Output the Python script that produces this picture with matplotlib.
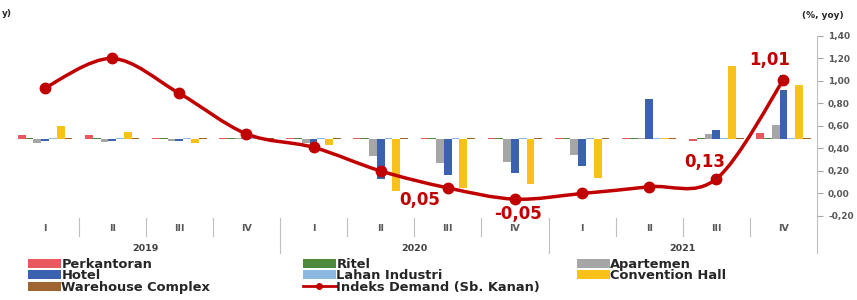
import numpy as np
import matplotlib
matplotlib.use('Agg')
import matplotlib.pyplot as plt
from matplotlib.path import Path
from matplotlib.patches import PathPatch, Patch
from matplotlib.lines import Line2D

# Kuartal dan tahun
quarters = ['I', 'II', 'III', 'IV'] * 3
years = ['2019', '2020', '2021']

# Pertumbuhan per segmen (sumbu kiri, skala tidak terlihat)
perkantoran = [0.04, 0.04, 0.01, 0.01, 0.01, 0.01, 0.01, 0.01, 0.01, 0.01, -0.01, 0.06]
ritel = [0.01, 0.01, 0.01, 0.01, 0.01, 0.01, 0.01, 0.01, 0.01, 0.01, 0.01, 0.01]
apartemen = [-0.03, -0.02, -0.01, 0.01, -0.03, -0.15, -0.21, -0.20, -0.14, 0.01, 0.05, 0.13]
hotel = [-0.01, -0.01, -0.01, 0.01, -0.04, -0.35, -0.32, -0.30, -0.24, 0.36, 0.08, 0.44]
lahan_industri = [0.01, 0.01, 0.01, 0.01, 0.01, 0.01, 0.01, 0.01, 0.01, 0.01, 0.01, 0.01]
convention_hall = [0.12, 0.07, -0.03, 0.01, -0.05, -0.46, -0.43, -0.40, -0.34, 0.01, 0.65, 0.48]
warehouse = [0.01, 0.01, 0.01, 0.01, 0.01, 0.01, 0.01, 0.01, 0.01, 0.01, 0.01, 0.01]

# Indeks Demand (sumbu kanan)
indeks_demand = [0.94, 1.20, 0.89, 0.53, 0.41, 0.20, 0.05, -0.05, 0.00, 0.06, 0.13, 1.01]

series = [
    ('Perkantoran', perkantoran, '#E8585F'),
    ('Ritel', ritel, '#4E8A3C'),
    ('Apartemen', apartemen, '#A6A6A6'),
    ('Hotel', hotel, '#3A62AE'),
    ('Lahan Industri', lahan_industri, '#8DB8E0'),
    ('Convention Hall', convention_hall, '#F9C21A'),
    ('Warehouse Complex', warehouse, '#A0642F'),
]
line_color = '#C00000'
text_gray = '#595959'
wide = ['DejaVu Sans']

plt.rcParams['font.family'] = ['Liberation Sans', 'DejaVu Sans']

fig = plt.figure(figsize=(8.57, 3.0), dpi=100)
ax = fig.add_axes([11.5 / 857, 1 - 216 / 300, (817 - 11.5) / 857, 180 / 300])
ax2 = ax.twinx()

x = np.arange(len(quarters))
w = 0.116
for k, (name, vals, col) in enumerate(series):
    ax.bar(x + (k - 3) * w, vals, width=w, color=col, linewidth=0)

ax.set_xlim(-0.5, len(quarters) - 0.5)
ax.set_ylim(-0.68, 0.92)
ax.axis('off')

# garis indeks, dihaluskan seperti grafik Excel (Bezier)
ys = np.array(indeks_demand)
pts = np.column_stack([x, ys])
verts = [pts[0]]
codes = [Path.MOVETO]
for i in range(len(pts) - 1):
    p0 = pts[max(i - 1, 0)]
    p1 = pts[i]
    p2 = pts[i + 1]
    p3 = pts[min(i + 2, len(pts) - 1)]
    verts += [p1 + (p2 - p0) / 6, p2 - (p3 - p1) / 6, p2]
    codes += [Path.CURVE4] * 3
ax2.add_patch(PathPatch(Path(verts, codes), fill=False, ec=line_color, lw=2.5,
                        capstyle='round', joinstyle='round'))
ax2.plot(x, ys, 'o', color=line_color, ms=7.5)

ticks = np.arange(-0.2, 1.41, 0.2)
ax2.set_ylim(-0.2, 1.4)
ax2.set_yticks(ticks)
ax2.set_yticklabels([f'{v:.2f}'.replace('.', ',') for v in ticks],
                    fontsize=6.5, fontweight='bold', color=text_gray, family=wide)
ax2.tick_params(axis='y', length=4, color='#A6A6A6', pad=4)
for s in ['top', 'left', 'bottom']:
    ax2.spines[s].set_visible(False)
ax2.spines['right'].set_color('#BFBFBF')
ax2.xaxis.set_visible(False)

# label nilai
lab = dict(color=line_color, fontsize=12, fontweight='bold', ha='center', va='center',
           family=wide)
arrow = dict(arrowstyle='-', color='#404040', lw=0.9, shrinkA=3, shrinkB=3)
ax2.annotate('1,01', (x[11], ys[11]), xytext=(-10, 14), textcoords='offset points',
             arrowprops=arrow, **lab)
ax2.annotate('0,13', (x[10], ys[10]), xytext=(-8, 12), textcoords='offset points',
             arrowprops=arrow, **lab)
ax2.annotate('0,05', (x[6], ys[6]), xytext=(-20, -9), textcoords='offset points', **lab)
ax2.annotate('-0,05', (x[7], ys[7]), xytext=(2, -11), textcoords='offset points', **lab)

# sumbu kategori (kuartal & tahun)
tr = ax.get_xaxis_transform()
for i, q in enumerate(quarters):
    ax.text(x[i], -0.072, q, transform=tr, ha='center', va='center',
            fontsize=6.8, fontweight='bold', color=text_gray, family=wide)
for i in range(len(quarters) - 1):
    long = (i + 1) % 4 == 0
    ax.plot([i + 0.5, i + 0.5], [-0.01, -0.206 if long else -0.111], transform=tr,
            color='#BFBFBF', lw=0.8, clip_on=False)
ax.plot([x[-1] + 0.5] * 2, [0, -0.206], transform=tr, color='#BFBFBF', lw=0.8, clip_on=False)
for j, yr in enumerate(years):
    ax.text(4 * j + 1.5, -0.178, yr, transform=tr, ha='center', va='center',
            fontsize=6.8, fontweight='bold', color='#404040', family=wide)

# teks satuan
fig.text(802 / 857, 1 - 16 / 300, '(%, yoy)', fontsize=6.5, fontweight='bold', va='center',
         family=wide, color='#262626')
fig.text(2 / 857, 1 - 14 / 300, 'y)', fontsize=6.5, fontweight='bold', va='center',
         family=wide, color='#262626')

# legenda, 3 kolom
handles = {name: Patch(facecolor=col, edgecolor='none') for name, _, col in series}
handles['Indeks Demand (Sb. Kanan)'] = Line2D([], [], color=line_color, lw=2, marker='o', ms=4)
columns = [
    (28, ['Perkantoran', 'Hotel', 'Warehouse Complex']),
    (303, ['Ritel', 'Lahan Industri', 'Indeks Demand (Sb. Kanan)']),
    (577, ['Apartemen', 'Convention Hall']),
]
for xpx, names in columns:
    leg = fig.legend([handles[n] for n in names], names, loc='upper left',
                     bbox_to_anchor=(xpx / 857, 1 - 258 / 300), frameon=False,
                     prop=dict(size=9.4, weight='bold', family=wide),
                     handlelength=2.5, handleheight=0.7,
                     handletextpad=0.05, labelspacing=-0.12, borderpad=0, borderaxespad=0)
    for t in leg.get_texts():
        t.set_color('#262626')

fig.savefig('out.png', dpi=100)
